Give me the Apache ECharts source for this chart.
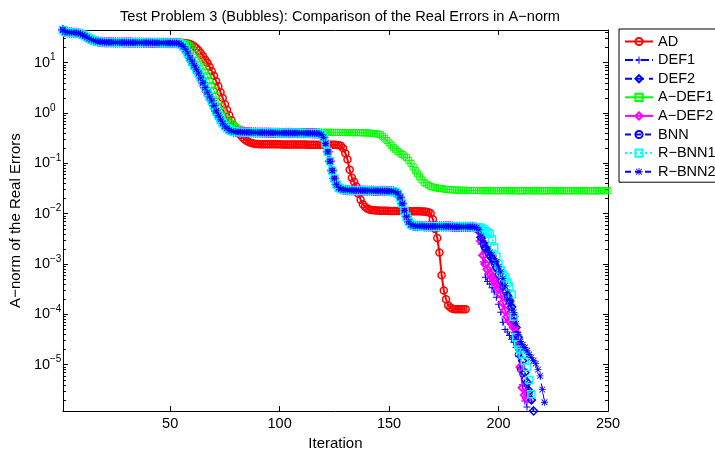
<!DOCTYPE html>
<html>
<head>
<meta charset="utf-8">
<script src="https://cdn.jsdelivr.net/npm/echarts@6.0.0/dist/echarts.min.js"></script>
<style>
  html, body { margin: 0; padding: 0; background: #fff; }
  #chart { width: 715px; height: 456px; }
</style>
</head>
<body>
<div id="chart"></div>
<script>
// iterations 1..54 : every method still on the same curve
const headAll = [
  44.7, 41, 40.3, 40, 39.8, 39.5, 39.2, 38.6, 37.5, 36,
  34, 32, 30.2, 28.8, 27.7, 26.9, 26.4, 26, 25.8, 25.6,
  25.5, 25.5, 25.4, 25.4, 25.4, 25.3, 25.3, 25.3, 25.2, 25.2,
  25.2, 25.2, 25.1, 25.1, 25.1, 25.1, 25.0, 25.0, 25.0, 25.0,
  24.9, 24.9, 24.9, 24.9, 24.8, 24.8, 24.8, 24.8, 24.7, 24.7,
  24.7, 24.6, 24.6, 24.5
];

// iterations 55..190 : DEF1, DEF2, A-DEF2, BNN, R-BNN1, R-BNN2 overlap
const headDeflation = [
  23, 21, 18.5, 15.5, 12.5, 10.5, 8.8, 7.4, 6.2, 5.0,
  4.0, 3.2, 2.6, 2.1, 1.75, 1.4, 1.1, 0.9, 0.75, 0.63,
  0.55, 0.5, 0.46, 0.44, 0.43, 0.425, 0.42, 0.42, 0.418, 0.416,
  0.415, 0.414, 0.413, 0.412, 0.411, 0.41, 0.41, 0.409, 0.408, 0.408,
  0.407, 0.406, 0.406, 0.405, 0.405, 0.404, 0.404, 0.403, 0.403, 0.402,
  0.402, 0.401, 0.401, 0.4, 0.4, 0.4, 0.399, 0.399, 0.398, 0.398,
  0.397, 0.396, 0.394, 0.39, 0.375, 0.33, 0.25, 0.17, 0.11, 0.072,
  0.05, 0.038, 0.033, 0.031, 0.0302, 0.0298, 0.0295, 0.0293, 0.0292, 0.029,
  0.029, 0.0289, 0.0289, 0.0288, 0.0288, 0.0287, 0.0287, 0.0286, 0.0286, 0.0285,
  0.0285, 0.0284, 0.0284, 0.0283, 0.0282, 0.0281, 0.028, 0.0277, 0.027, 0.025,
  0.021, 0.016, 0.0115, 0.0087, 0.0069, 0.0061, 0.0058, 0.0057, 0.0057, 0.0057,
  0.0057, 0.0056, 0.0056, 0.0056, 0.0056, 0.0056, 0.0056, 0.0056, 0.0056, 0.0056,
  0.0056, 0.0056, 0.0056, 0.0056, 0.0055, 0.0055, 0.0055, 0.0055, 0.0055, 0.0055,
  0.0055, 0.0055, 0.0055, 0.0055, 0.0054, 0.0053
];

// iterations 191.. : each method on its own
const tailDEF1 = [
  4.5e-3, 2.5e-3, 1.1e-3, 5.5e-4, 4.5e-4, 4.0e-4, 3.4e-4, 2.8e-4, 2.2e-4, 1.6e-4,
  1.1e-4, 7e-5, 5e-5, 4.5e-5, 3.8e-5, 3.2e-5, 2.8e-5, 2.2e-5, 1.5e-5, 8e-6,
  4e-6, 1.9e-6, 1.45e-6
];
const tailDEF2 = [
  4.7e-3, 3.4e-3, 2.6e-3, 2.1e-3, 1.8e-3, 1.5e-3, 1.3e-3, 1.1e-3, 8.5e-4, 6.2e-4,
  4.5e-4, 3.6e-4, 3.0e-4, 2.4e-4, 1.9e-4, 1.4e-4, 9e-5, 5.5e-5, 3.5e-5, 2.2e-5,
  1.2e-5, 7e-6, 4.5e-6, 3e-6, 2e-6, 1.21e-6
];
const tailADEF2 = [
  4.5e-3, 2.9e-3, 1.5e-3, 1.0e-3, 7.8e-4, 6.5e-4, 5.5e-4, 4.7e-4, 4.0e-4, 3.3e-4,
  2.5e-4, 1.7e-4, 1.2e-4, 9e-5, 7.5e-5, 6.5e-5, 5.5e-5, 4.3e-5, 2.4e-5, 9e-6,
  3.5e-6, 2.5e-6, 2.1e-6
];
const tailBNN = [
  4.6e-3, 3.3e-3, 2.5e-3, 2.0e-3, 1.7e-3, 1.4e-3, 1.2e-3, 1.0e-3, 8e-4, 6e-4,
  4.6e-4, 3.5e-4, 2.8e-4, 2.2e-4, 1.7e-4, 1.2e-4, 7.5e-5, 4e-5, 1.6e-5, 8e-6,
  6.5e-6, 5.2e-6, 4e-6, 2.6e-6, 2e-6
];
const tailRBNN1 = [
  5.4e-3, 5.2e-3, 4.9e-3, 4.6e-3, 4.3e-3, 4.0e-3, 3.1e-3, 2.1e-3, 1.4e-3, 1.0e-3,
  7.5e-4, 6.2e-4, 5.4e-4, 4.3e-4, 3.6e-4, 2.5e-4, 9e-5, 3.5e-5, 2.5e-5, 2e-5,
  1.6e-5, 1.2e-5, 9e-6, 5e-6, 2.6e-6
];
const tailRBNN2 = [
  4.8e-3, 3.6e-3, 2.9e-3, 2.4e-3, 2.0e-3, 1.7e-3, 1.5e-3, 1.3e-3, 1.1e-3, 8.8e-4,
  7e-4, 5.2e-4, 3.7e-4, 2.7e-4, 2.0e-4, 1.6e-4, 1.1e-4, 6.5e-5, 4e-5, 2.9e-5,
  2.5e-5, 2.2e-5, 1.9e-5, 1.6e-5, 1.4e-5, 1.2e-5, 1.05e-5, 8e-6, 6e-6, 3.2e-6,
  1.8e-6
];

// iterations 55..185 for AD
const restAD = [
  25, 24.8, 24.5, 24, 23.5, 22.5, 21, 19.5, 17.5, 15.5,
  13.5, 11.5, 10, 8.3, 6.8, 5.5, 4.3, 3.4, 2.6, 2.0,
  1.5, 1.15, 0.9, 0.72, 0.58, 0.48, 0.42, 0.37, 0.33, 0.3,
  0.28, 0.265, 0.255, 0.248, 0.244, 0.242, 0.241, 0.24, 0.24, 0.24,
  0.24, 0.239, 0.239, 0.239, 0.239, 0.239, 0.238, 0.238, 0.238, 0.238,
  0.238, 0.238, 0.237, 0.237, 0.237, 0.237, 0.237, 0.237, 0.236, 0.236,
  0.236, 0.236, 0.236, 0.236, 0.235, 0.235, 0.235, 0.235, 0.235, 0.234,
  0.234, 0.233, 0.23, 0.225, 0.2, 0.16, 0.12, 0.075, 0.052, 0.043,
  0.035, 0.025, 0.019, 0.0155, 0.0138, 0.0127, 0.0122, 0.0119, 0.0117, 0.0116,
  0.0116, 0.0115, 0.0115, 0.0115, 0.0115, 0.0114, 0.0114, 0.0114, 0.0114, 0.0114,
  0.0113, 0.0113, 0.0113, 0.0113, 0.0113, 0.0112, 0.0112, 0.0112, 0.0112, 0.0112,
  0.0111, 0.0111, 0.011, 0.0107, 0.0102, 0.0078, 0.005, 0.0033, 0.0017, 0.0006,
  3e-4, 2e-4, 1.5e-4, 1.37e-4, 1.3e-4, 1.27e-4, 1.26e-4, 1.26e-4, 1.26e-4, 1.26e-4,
  1.26e-4
];

// iterations 55..250 for A-DEF1
const restADEF1 = [
  24.8, 24.5, 24, 23, 21.5, 19.5, 17, 14.5, 12, 10,
  8.3, 6.8, 5.5, 4.4, 3.5, 2.8, 2.2, 1.7, 1.35, 1.1,
  0.9, 0.76, 0.67, 0.61, 0.56, 0.52, 0.49, 0.47, 0.455, 0.445,
  0.44, 0.435, 0.432, 0.43, 0.43, 0.428, 0.428, 0.427, 0.427, 0.426,
  0.426, 0.425, 0.425, 0.424, 0.424, 0.423, 0.423, 0.422, 0.422, 0.421,
  0.421, 0.42, 0.42, 0.42, 0.419, 0.419, 0.418, 0.418, 0.418, 0.417,
  0.417, 0.416, 0.416, 0.416, 0.415, 0.415, 0.414, 0.414, 0.414, 0.413,
  0.413, 0.412, 0.412, 0.412, 0.411, 0.411, 0.41, 0.41, 0.41, 0.409,
  0.409, 0.408, 0.407, 0.406, 0.405, 0.403, 0.4, 0.397, 0.393, 0.388,
  0.38, 0.37, 0.345, 0.315, 0.285, 0.255, 0.228, 0.205, 0.187, 0.172,
  0.16, 0.15, 0.14, 0.13, 0.115, 0.1, 0.085, 0.072, 0.062, 0.054,
  0.047, 0.042, 0.039, 0.037, 0.035, 0.034, 0.033, 0.0325, 0.032, 0.0315,
  0.031, 0.0305, 0.0302, 0.03, 0.0298, 0.0296, 0.0295, 0.0294, 0.0293, 0.0292,
  0.0291, 0.029, 0.029, 0.0289, 0.0289, 0.0288, 0.0288, 0.0288, 0.0288, 0.0287,
  0.0287, 0.0287, 0.0287, 0.0287, 0.0287, 0.0287, 0.0287, 0.0287, 0.0287, 0.0287,
  0.0287, 0.0287, 0.0286, 0.0286, 0.0286, 0.0286, 0.0286, 0.0286, 0.0286, 0.0286,
  0.0286, 0.0286, 0.0286, 0.0286, 0.0286, 0.0286, 0.0286, 0.0286, 0.0286, 0.0286,
  0.0286, 0.0286, 0.0286, 0.0286, 0.0286, 0.0286, 0.0286, 0.0286, 0.0286, 0.0286,
  0.0286, 0.0286, 0.0286, 0.0286, 0.0286, 0.0286, 0.0286, 0.0286, 0.0286, 0.0286,
  0.0286, 0.0286, 0.0286, 0.0287, 0.0287, 0.0288
];

const seriesNames = ['AD', 'DEF1', 'DEF2', 'A−DEF1', 'A−DEF2', 'BNN', 'R−BNN1', 'R−BNN2'];
const xTicks = [50, 100, 150, 200, 250];
const xRange = [1, 250];
const yRange = [1.2e-6, 44.7];
// minor tick marks of the log axis: 2..9 times each decade
const minorMantissas = [2, 3, 4, 5, 6, 7, 8, 9];
const minorDecades = [-6, -5, -4, -3, -2, -1, 0, 1];

const seriesValues = [
  headAll.concat(restAD),
  headAll.concat(headDeflation, tailDEF1),
  headAll.concat(headDeflation, tailDEF2),
  headAll.concat(restADEF1),
  headAll.concat(headDeflation, tailADEF2),
  headAll.concat(headDeflation, tailBNN),
  headAll.concat(headDeflation, tailRBNN1),
  headAll.concat(headDeflation, tailRBNN2)
];

// marker shapes in the MATLAB look
const PLUS = 'path://M4.3,0H5.7V10H4.3Z M0,4.3H10V5.7H0Z';
const STAR = 'path://M4.4,0H5.6V10H4.4Z M0,4.4H10V5.6H0Z M1.3,0.5L9.5,8.7L8.7,9.5L0.5,1.3Z M8.7,0.5L9.5,1.3L1.3,9.5L0.5,8.7Z';

const looks = [
  {color: '#ff0000', width: 2, type: 'solid', symbol: 'circle', size: 7, hollow: true, border: 1.5},
  {color: '#0000ff', width: 1, type: [8, 3, 2, 3], symbol: PLUS, size: 7, hollow: false},
  {color: '#0000ff', width: 2, type: [7, 5], symbol: 'diamond', size: 8, hollow: true, border: 1.5},
  {color: '#00ff00', width: 1, type: 'solid', symbol: 'rect', size: 6, hollow: true, border: 1},
  {color: '#ff00ff', width: 2, type: 'solid', symbol: 'diamond', size: 8, hollow: true, border: 2},
  {color: '#0000ff', width: 1, type: [6, 4], symbol: 'circle', size: 6, hollow: true, border: 1},
  {color: '#00ffff', width: 1.5, type: [2, 3], symbol: 'rect', size: 7, hollow: true, border: 1.5},
  {color: '#0000ff', width: 1, type: [6, 4], symbol: STAR, size: 7, hollow: false}
];

const FONT = 'Liberation Sans, Arial, sans-serif';

function supLabel(value) {
  const e = Math.log10(value);
  if (Math.abs(e - Math.round(e)) > 0.01) return '';
  const n = Math.round(e);
  return '{b|10}{s|' + (n < 0 ? '−' + (-n) : n) + '}';
}

const minorLog = [];
minorDecades.forEach(d => minorMantissas.forEach(m => minorLog.push(d + Math.log10(m))));
const logRange = [Math.log10(yRange[0]), Math.log10(yRange[1])];

const chart = echarts.init(document.getElementById('chart'));

const series = seriesValues.map((vals, k) => {
  const lk = looks[k];
  return {
    name: seriesNames[k],
    type: 'line',
    xAxisIndex: 0,
    yAxisIndex: 0,
    data: vals.map((v, i) => [i + 1, v]),
    symbol: lk.symbol,
    symbolSize: lk.size,
    showAllSymbol: true,
    lineStyle: {color: lk.color, width: lk.width, type: lk.type},
    itemStyle: lk.hollow
      ? {color: 'rgba(0,0,0,0)', borderColor: lk.color, borderWidth: lk.border}
      : {color: lk.color, borderWidth: 0},
    emphasis: {disabled: true},
    animation: false
  };
});

const tickLine = {color: '#000', width: 1};

function minorAxis(pos) {
  return {
    type: 'value', position: pos, min: logRange[0], max: logRange[1],
    axisLine: {show: false, onZero: false},
    axisTick: {show: true, inside: true, length: 3, lineStyle: tickLine, customValues: minorLog},
    axisLabel: {show: false},
    splitLine: {show: false}
  };
}

chart.setOption({
  animation: false,
  backgroundColor: '#fff',
  title: {
    text: 'Test Problem 3 (Bubbles): Comparison of the Real Errors in A−norm',
    left: 335,
    top: 4,
    textAlign: 'center',
    textStyle: {fontFamily: FONT, fontSize: 14.6, fontWeight: 'normal', color: '#000'}
  },
  legend: {
    data: seriesNames,
    orient: 'vertical',
    left: 619,
    top: 29,
    padding: [5, 6, 3, 5],
    itemWidth: 28,
    itemHeight: 9,
    itemGap: 3.6,
    selectedMode: false,
    borderColor: '#000',
    borderWidth: 1,
    backgroundColor: '#fff',
    textStyle: {fontFamily: FONT, fontSize: 14.5, color: '#000', lineHeight: 14}
  },
  grid: {left: 61, right: 107, top: 30, bottom: 38, containLabel: false},
  xAxis: [
    {
      type: 'value', position: 'bottom', min: xRange[0], max: xRange[1],
      name: 'Iteration', nameLocation: 'middle', nameGap: 20,
      nameTextStyle: {fontFamily: FONT, fontSize: 15, color: '#000'},
      axisLine: {show: true, onZero: false, lineStyle: tickLine},
      axisTick: {show: true, inside: true, length: 5, lineStyle: tickLine, customValues: xTicks},
      axisLabel: {customValues: xTicks, margin: 5, fontFamily: FONT, fontSize: 14.5, color: '#000'},
      splitLine: {show: false}
    },
    {
      type: 'value', position: 'top', min: xRange[0], max: xRange[1],
      axisLine: {show: true, onZero: false, lineStyle: tickLine},
      axisTick: {show: true, inside: true, length: 5, lineStyle: tickLine, customValues: xTicks},
      axisLabel: {show: false},
      splitLine: {show: false}
    }
  ],
  yAxis: [
    {
      type: 'log', logBase: 10, position: 'left', min: yRange[0], max: yRange[1],
      name: 'A−norm of the Real Errors', nameLocation: 'middle', nameGap: 28,
      nameTextStyle: {fontFamily: FONT, fontSize: 15, color: '#000'},
      axisLine: {show: true, onZero: false, lineStyle: tickLine},
      axisTick: {show: true, inside: true, length: 5, lineStyle: tickLine},
      minorTick: {show: false},
      axisLabel: {
        formatter: supLabel, align: 'left', margin: 29, color: '#000',
        rich: {
          b: {fontFamily: FONT, fontSize: 14.5, color: '#000', lineHeight: 20, verticalAlign: 'middle'},
          s: {fontFamily: FONT, fontSize: 10, color: '#000', lineHeight: 10, verticalAlign: 'top'}
        }
      },
      splitLine: {show: false}
    },
    {
      type: 'log', logBase: 10, position: 'right', min: yRange[0], max: yRange[1],
      axisLine: {show: true, onZero: false, lineStyle: tickLine},
      axisTick: {show: true, inside: true, length: 5, lineStyle: tickLine},
      minorTick: {show: false},
      axisLabel: {show: false},
      splitLine: {show: false}
    },
    minorAxis('left'),
    minorAxis('right')
  ],
  series: series
});
</script>
</body>
</html>
